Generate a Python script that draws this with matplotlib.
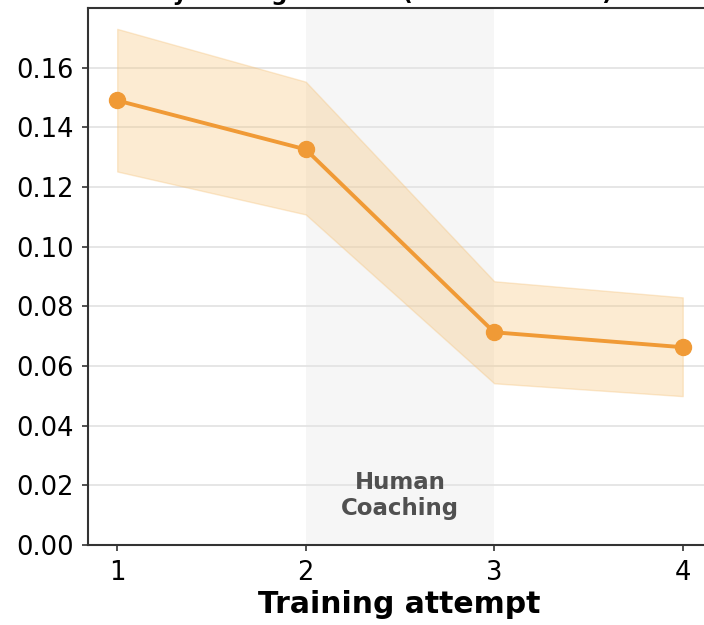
import numpy as np
import matplotlib
matplotlib.use("Agg")
import matplotlib.pyplot as plt

attempts = [1, 2, 3, 4]
mean_gap = [0.149, 0.1326, 0.0713, 0.0663]
band_low = [0.1252, 0.1108, 0.0542, 0.0499]
band_high = [0.173, 0.1553, 0.0884, 0.0830]
coaching_span = (2, 3)

orange = "#F09A36"

fig = plt.figure(figsize=(7.04, 6.25), dpi=100)
ax = fig.add_axes([88 / 704, 80 / 625, 623 / 704, 537 / 625])

ax.axvspan(*coaching_span, color="#f4f4f4", alpha=0.8, lw=0, zorder=0)
ax.fill_between(attempts, band_low, band_high, color="#F7C77F", alpha=0.35,
                lw=1, edgecolor="#F5C27A", zorder=1)
ax.plot(attempts, mean_gap, color=orange, lw=2.8, marker="o", ms=11.5, zorder=3)

ax.text(2.5, 0.0165, "Human\nCoaching", ha="center", va="center",
        fontsize=16.5, fontweight="bold", color="#505050", linespacing=1.15)

ax.set_xlim(0.845, 4.15)
ax.set_ylim(0, 0.18)
ax.set_xticks(attempts)
ax.set_yticks(np.arange(0, 0.161, 0.02))
ax.yaxis.set_major_formatter(matplotlib.ticker.FormatStrFormatter("%.2f"))
ax.tick_params(labelsize=18.5, length=4.5, width=1.2, color="#333333", pad=6)
ax.grid(axis="y", color="#e2e2e2", lw=1.2)
ax.set_axisbelow(True)
for s in ax.spines.values():
    s.set_color("#333333")
    s.set_linewidth(1.5)

ax.set_xlabel("Training attempt", fontsize=21.5, fontweight="bold", labelpad=3)
# title sits above the top edge of the canvas
fig.text(0.505, 1.0, "Steady-state gait error (lower is better)",
         ha="center", va="baseline", fontsize=16.5, fontweight="bold")

fig.savefig("out.png", dpi=100)
